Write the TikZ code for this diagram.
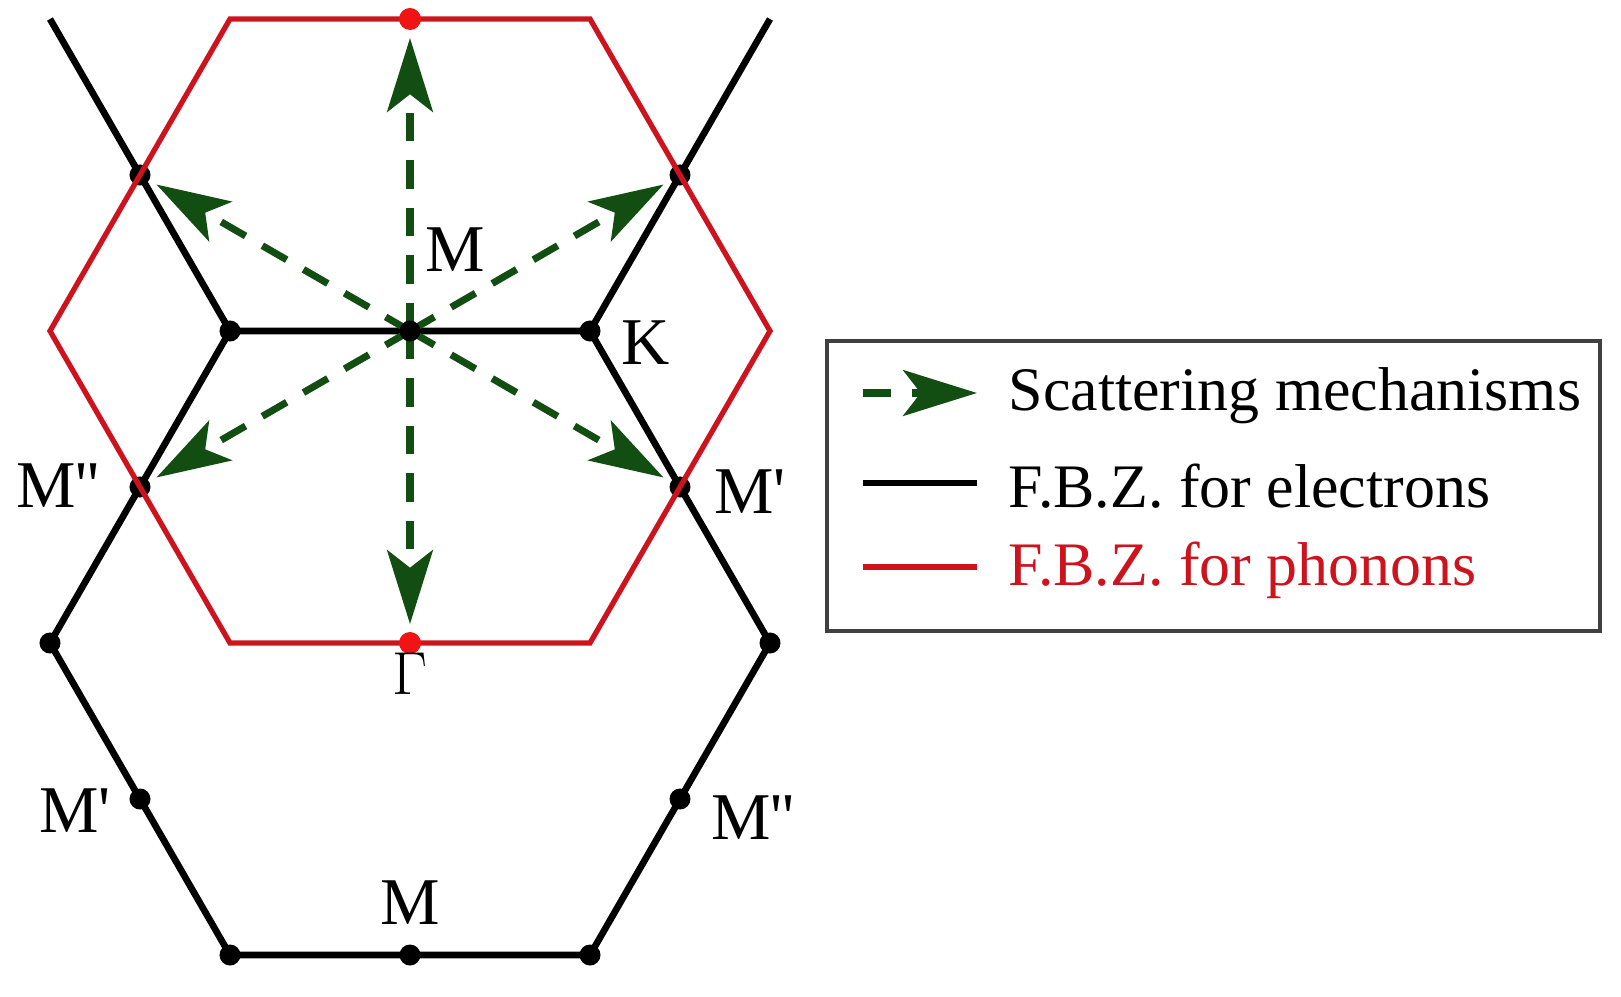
\documentclass[tikz,border=0pt]{standalone}
\usepackage{fontspec}
\setmainfont{Liberation Serif}[Ligatures=TeXOff]
\usetikzlibrary{arrows.meta}
\definecolor{dgreen}{RGB}{18,78,18}
\definecolor{bzred}{RGB}{205,20,30}
\definecolor{dotred}{RGB}{240,20,20}
\begin{document}
\begin{tikzpicture}[x=0.01cm,y=-0.01cm,
  eline/.style={line width=1.9pt,black},
  pline/.style={line width=1.5pt,bzred},
  bdot/.style={circle,fill=black,inner sep=0pt,minimum size=0.21cm},
  rdot/.style={circle,fill=dotred,inner sep=0pt,minimum size=0.22cm},
  scat/.style={dgreen,line width=2pt,dash pattern=on 8pt off 5.5pt,
    -{Stealth[length=21pt,width=13pt,inset=5pt]},shorten >=0.19cm},
  lbl/.style={font=\fontsize{19}{21}\selectfont,inner sep=0pt},
  leg/.style={font=\fontsize{17.6}{20}\selectfont,inner sep=0pt,anchor=west}]
\useasboundingbox (0,0) rectangle (1621,997);
% electron BZ vertices
\coordinate (e1) at (770,643);
\coordinate (e2) at (590,331);
\coordinate (e3) at (230,331);
\coordinate (e4) at (50,643);
\coordinate (e5) at (230,955);
\coordinate (e6) at (590,955);
\coordinate (tl) at (50,19);
\coordinate (tr) at (770,19);
% phonon BZ vertices
\coordinate (p1) at (770,331);
\coordinate (p2) at (590,19);
\coordinate (p3) at (230,19);
\coordinate (p4) at (50,331);
\coordinate (p5) at (230,643);
\coordinate (p6) at (590,643);
% black lines
\draw[eline] (e1) -- (e2) -- (e3) -- (e4) -- (e5) -- (e6) -- cycle;
\draw[eline] (e3) -- (tl);
\draw[eline] (e2) -- (tr);
% black dots
\node[bdot] (K) at (e2) {};
\node[bdot] (Kp) at (e3) {};
\node[bdot] (Mul) at (140,175) {};
\node[bdot] (Mur) at (680,175) {};
\node[bdot] (Mpp) at (140,487) {};
\node[bdot] (Mp) at (680,487) {};
\node[bdot] (Kl) at (e4) {};
\node[bdot] (Kr) at (e1) {};
\node[bdot] (Mpl) at (140,799) {};
\node[bdot] (Mppr) at (680,799) {};
\node[bdot] (Kbl) at (e5) {};
\node[bdot] (Mb) at (410,955) {};
\node[bdot] (Kbr) at (e6) {};
% red hexagon
\draw[pline] (p1) -- (p2) -- (p3) -- (p4) -- (p5) -- (p6) -- cycle;
\node[rdot] (Mt) at (410,19) {};
\node[rdot] (G) at (410,643) {};
% scattering arrows
\coordinate (Mc) at (410,331);
\draw[scat] (Mc) -- (Mt.center);
\draw[scat] (Mc) -- (G.center);
\draw[scat] (Mc) -- (Mul.center);
\draw[scat] (Mc) -- (Mur.center);
\draw[scat] (Mc) -- (Mpp.center);
\draw[scat] (Mc) -- (Mp.center);
\node[bdot] (M) at (Mc) {};
% labels
\node[lbl] (lM) at (455,250) {M};
\node[lbl] (lK) at (646,343) {K};
\node[lbl] (lMpp) at (58,486) {M''};
\node[lbl] (lMp) at (750,492) {M'};
\node[lbl] (lG) at (410,674) {$\Gamma$};
\node[lbl] (lMpl) at (75,811) {M'};
\node[lbl] (lMppr) at (753,818) {M''};
\node[lbl] (lMb) at (410,903) {M};
% legend
\draw[line width=1.2pt,black!75] (827,341) rectangle (1600,631);
\coordinate (a1) at (863,393);
\coordinate (a2) at (977,393);
\draw[dgreen,line width=2pt,dash pattern=on 8pt off 6pt,
    -{Stealth[length=21pt,width=13pt,inset=5pt]}] (a1) -- (a2);
\node[leg] (t1) at (1008,396) {Scattering mechanisms};
\coordinate (b1) at (863,483);
\coordinate (b2) at (977,483);
\draw[eline] (b1) -- (b2);
\node[leg] (t2) at (1008,486) {F.B.Z. for electrons};
\coordinate (c1) at (863,567);
\coordinate (c2) at (977,567);
\draw[pline,line width=1.9pt] (c1) -- (c2);
\node[leg,text=bzred] (t3) at (1008,570) {F.B.Z. for phonons};
\end{tikzpicture}
\end{document}
